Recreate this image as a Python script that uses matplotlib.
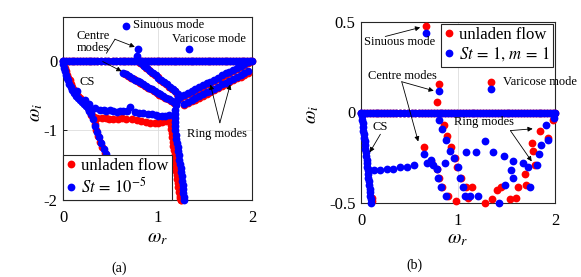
import matplotlib
matplotlib.use("Agg")
import matplotlib.pyplot as plt
import numpy as np

plt.rcParams["font.family"] = ["Liberation Serif", "DejaVu Serif"]
plt.rcParams["mathtext.fontset"] = "stix"
plt.rcParams["axes.unicode_minus"] = False

RED, BLUE = "#ff0000", "#0000ff"
MS = 5.6

# ---------------- panel (a): unladen flow vs St = 1e-5 ----------------
# neutral continuous line (omega_i = 0)
a_zero_wr = [0.00, 0.03, 0.06, 0.09, 0.12, 0.15, 0.18, 0.21, 0.24, 0.27, 0.30, 0.33, 0.36,
             0.40, 0.44, 0.48, 0.53, 0.56, 0.60, 0.63, 0.66, 0.69, 0.72, 0.75, 0.78, 0.81,
             0.84, 0.87, 0.90, 0.93, 0.96, 0.99, 1.02, 1.05, 1.08, 1.11, 1.14, 1.17, 1.20,
             1.23, 1.26, 1.29, 1.32, 1.35, 1.38, 1.41, 1.44, 1.47, 1.50, 1.53, 1.56, 1.59,
             1.62, 1.65, 1.68, 1.71, 1.74, 1.77, 1.80, 1.83, 1.86, 1.89, 1.92, 1.95, 1.98, 2.00]

# CS branch
a_cs_wr = [0.00, 0.005, 0.01, 0.02, 0.03, 0.04, 0.05, 0.065, 0.08, 0.10, 0.12, 0.14, 0.16,
           0.18, 0.20, 0.22, 0.24, 0.26, 0.28, 0.30, 0.32, 0.34, 0.36, 0.38, 0.40, 0.43,
           0.45, 0.47]
a_cs_wi = [0.00, -0.05, -0.10, -0.15, -0.20, -0.24, -0.28, -0.33, -0.38, -0.42, -0.46, -0.50,
           -0.53, -0.56, -0.59, -0.62, -0.65, -0.68, -0.72, -0.77, -0.83, -0.93, -1.02, -1.10,
           -1.18, -1.26, -1.34, -1.42]
a_cs_red_wr = [0.01, 0.02, 0.03, 0.045, 0.055, 0.07, 0.085, 0.10, 0.12, 0.14, 0.16, 0.18, 0.20,
               0.22, 0.24, 0.26, 0.28, 0.30, 0.32, 0.335, 0.35, 0.37, 0.39, 0.41, 0.44, 0.46]
a_cs_red_wi = [-0.05, -0.10, -0.15, -0.20, -0.24, -0.28, -0.33, -0.38, -0.42, -0.46, -0.50,
               -0.54, -0.57, -0.60, -0.63, -0.66, -0.70, -0.75, -0.81, -0.91, -1.00, -1.08,
               -1.16, -1.24, -1.32, -1.40]
a_cs_extra_wr = [0.145, 0.23, 0.27]
a_cs_extra_wi = [-0.44, -0.56, -0.62]

# branch near omega_i ~ -0.8
a_low_blue_wr = [0.30, 0.34, 0.39, 0.43, 0.46, 0.50, 0.53, 0.57, 0.60, 0.64, 0.68, 0.71, 0.76,
                 0.80, 0.85, 0.90, 0.94, 0.98, 1.01, 1.05, 1.08, 1.12]
a_low_blue_wi = [-0.70, -0.68, -0.70, -0.71, -0.72, -0.71, -0.72, -0.73, -0.72, -0.72, -0.72,
                 -0.66, -0.74, -0.75, -0.75, -0.76, -0.77, -0.78, -0.79, -0.79, -0.79, -0.78]
a_low_red_wr = [0.30, 0.33, 0.36, 0.41, 0.45, 0.49, 0.53, 0.58, 0.62, 0.67, 0.73, 0.78, 0.83,
                0.88, 0.92, 0.97, 1.01, 1.05, 1.09, 1.12]
a_low_red_wi = [-0.78, -0.80, -0.82, -0.82, -0.82, -0.83, -0.84, -0.83, -0.82, -0.83, -0.84,
                -0.85, -0.87, -0.88, -0.89, -0.89, -0.89, -0.88, -0.87, -0.86]

# centre-mode diagonals
a_cen1_wr = [0.64, 0.67, 0.70, 0.73, 0.76, 0.79, 0.82, 0.85, 0.88, 0.91, 0.94, 0.97, 1.00,
             1.03, 1.06, 1.09, 1.12, 1.15, 1.18]
a_cen1_wi = [-0.17, -0.19, -0.22, -0.24, -0.27, -0.29, -0.31, -0.34, -0.36, -0.39, -0.41,
             -0.43, -0.46, -0.48, -0.51, -0.53, -0.55, -0.58, -0.60]
a_cen1_red_wr = [0.66, 0.69, 0.72, 0.75, 0.78, 0.81, 0.84, 0.87, 0.90, 0.93, 0.96, 0.99, 1.02,
                 1.05, 1.08, 1.11, 1.14, 1.17]
a_cen1_red_wi = [-0.195, -0.215, -0.24, -0.265, -0.29, -0.315, -0.34, -0.365, -0.39, -0.41,
                 -0.435, -0.46, -0.485, -0.51, -0.53, -0.555, -0.58, -0.605]
a_cen2_wr = [0.80, 0.83, 0.86, 0.89, 0.92, 0.95, 0.98, 1.01, 1.04, 1.07, 1.10, 1.13, 1.16,
             1.19, 1.22]
a_cen2_wi = [0.00, -0.03, -0.07, -0.10, -0.14, -0.17, -0.21, -0.24, -0.27, -0.31, -0.34,
             -0.38, -0.41, -0.44, -0.48]
a_cen2_red_wr = [0.82, 0.85, 0.88, 0.91, 0.94, 0.97, 1.00, 1.03, 1.06, 1.09, 1.12, 1.15, 1.18,
                 1.21]
a_cen2_red_wi = [-0.03, -0.065, -0.10, -0.13, -0.17, -0.20, -0.235, -0.27, -0.30, -0.34,
                 -0.37, -0.41, -0.44, -0.475]

# vertical branch from the junction
a_vert_wr = [1.22, 1.21, 1.20, 1.19, 1.18, 1.18, 1.18, 1.185, 1.19, 1.195, 1.20, 1.21, 1.215,
             1.22, 1.225, 1.23, 1.24, 1.245, 1.25, 1.255, 1.26, 1.265, 1.27, 1.275, 1.28, 1.285]
a_vert_wi = [-0.52, -0.58, -0.64, -0.70, -0.76, -0.82, -0.88, -0.94, -1.00, -1.06, -1.12, -1.18,
             -1.24, -1.30, -1.36, -1.42, -1.48, -1.54, -1.60, -1.66, -1.72, -1.78, -1.84, -1.90,
             -1.96, -2.00]
a_vert_red_wr = [1.14, 1.14, 1.145, 1.15, 1.155, 1.16, 1.165, 1.17, 1.18, 1.185, 1.19, 1.195,
                 1.20, 1.205, 1.21, 1.215, 1.22, 1.23, 1.235, 1.24, 1.245, 1.25]
a_vert_red_wi = [-0.86, -0.92, -0.98, -1.04, -1.10, -1.16, -1.22, -1.28, -1.34, -1.40, -1.46,
                 -1.52, -1.58, -1.64, -1.70, -1.76, -1.82, -1.88, -1.94, -1.97, -2.00, -2.00]

# ring-mode branches
a_ring1_wr = [1.24, 1.28, 1.32, 1.36, 1.40, 1.44, 1.48, 1.52, 1.56, 1.60, 1.64, 1.68, 1.72,
              1.76, 1.80, 1.84, 1.88, 1.92, 1.96]
a_ring1_wi = [-0.52, -0.49, -0.46, -0.44, -0.41, -0.38, -0.35, -0.32, -0.30, -0.27, -0.24,
              -0.21, -0.18, -0.16, -0.13, -0.10, -0.07, -0.04, -0.01]
a_ring1_red_wi = [-0.54, -0.51, -0.48, -0.46, -0.43, -0.40, -0.37, -0.34, -0.32, -0.29, -0.26,
                  -0.23, -0.20, -0.18, -0.15, -0.12, -0.09, -0.06, -0.03]
a_ring2_wr = [1.28, 1.32, 1.36, 1.40, 1.44, 1.48, 1.52, 1.56, 1.60, 1.64, 1.68, 1.72, 1.76,
              1.80, 1.84, 1.88, 1.92, 1.96]
a_ring2_wi = [-0.62, -0.59, -0.56, -0.54, -0.51, -0.48, -0.45, -0.43, -0.40, -0.37, -0.34,
              -0.32, -0.29, -0.26, -0.23, -0.21, -0.18, -0.15]
a_ring2_red_wi = [-0.64, -0.61, -0.58, -0.56, -0.53, -0.50, -0.47, -0.45, -0.42, -0.39, -0.36,
                  -0.34, -0.31, -0.28, -0.25, -0.23, -0.20, -0.17]

# discrete modes
a_disc_wr = [0.67, 1.33, 0.79, 0.785]
a_disc_wi = [0.50, 0.17, 0.17, 0.07]

# ---------------- panel (b): unladen flow vs St = 1, m = 1 ----------------
b_zero_wr = a_zero_wr

b_cs_wi = [0.00, -0.02, -0.04, -0.06, -0.08, -0.10, -0.12, -0.14, -0.16, -0.18, -0.20, -0.22,
           -0.24, -0.26, -0.28, -0.30, -0.32, -0.34, -0.36, -0.38, -0.40, -0.42, -0.44, -0.46,
           -0.48, -0.50]
b_cs_wr = [0.005, 0.009, 0.013, 0.017, 0.021, 0.025, 0.029, 0.033, 0.037, 0.041, 0.045, 0.049,
           0.053, 0.057, 0.061, 0.065, 0.069, 0.073, 0.077, 0.081, 0.085, 0.089, 0.093, 0.097,
           0.101, 0.105]
b_cs_red_wr = [0.110, 0.115]
b_cs_red_wi = [-0.47, -0.49]

b_hor_wr = [0.08, 0.13, 0.20, 0.27, 0.33, 0.40, 0.47, 0.55]
b_hor_wi = [-0.32, -0.32, -0.32, -0.31, -0.31, -0.30, -0.30, -0.29]

b_red_wr = [0.67, 0.80, 0.78, 1.34,
            0.86, 0.89, 0.93, 0.97, 0.99, 1.03, 1.08, 1.10,
            0.65, 0.72, 0.78, 0.80, 0.84, 0.90, 0.98,
            1.14, 1.28, 1.35, 1.40, 1.44, 1.54, 1.60, 1.62, 1.69, 1.70,
            1.76, 1.77, 1.79, 1.85, 1.93, 1.98]
b_red_wi = [0.48, 0.16, 0.06, 0.17,
            -0.07, -0.13, -0.19, -0.25, -0.30, -0.36, -0.41, -0.47,
            -0.19, -0.27, -0.31, -0.36, -0.41, -0.46, -0.49,
            -0.41, -0.50, -0.48, -0.43, -0.41, -0.48, -0.47, -0.41, -0.34, -0.40,
            -0.17, -0.21, -0.29, -0.10, -0.14, -0.04]
b_blue_wr = [0.67, 0.80, 1.34,
             0.80, 0.84, 0.88, 0.92, 0.96, 1.00, 1.02, 1.05, 1.07,
             0.65, 0.68, 0.72, 0.74, 0.78, 0.79, 0.82, 0.88,
             0.87, 1.08, 1.19, 1.28, 1.36, 1.47, 1.57, 1.67,
             1.12, 1.21, 1.42, 1.48, 1.55, 1.57, 1.72, 1.74, 1.81, 1.83, 1.86, 1.91, 1.93, 1.99]
b_blue_wi = [0.44, 0.12, 0.13,
             -0.04, -0.09, -0.15, -0.21, -0.25, -0.30, -0.36, -0.41, -0.46,
             -0.23, -0.28, -0.26, -0.29, -0.31, -0.36, -0.41, -0.46,
             -0.28, -0.22, -0.22, -0.16, -0.22, -0.24, -0.27, -0.28,
             -0.46, -0.46, -0.50, -0.40, -0.32, -0.36, -0.30, -0.41, -0.29, -0.23, -0.18, -0.07,
             -0.15, -0.03]


def dots(ax, x, y, c):
    ax.plot(x, y, "o", color=c, ms=MS, mew=0, clip_on=False, zorder=3)


def arrow(ax, xy, xytext):
    ax.annotate("", xy=xy, xytext=xytext,
                arrowprops=dict(arrowstyle="-|>", color="k", lw=0.6, mutation_scale=7,
                                shrinkA=0, shrinkB=0))


def style(ax):
    ax.set_xlim(0, 2)
    ax.set_xticks([0, 1, 2])
    ax.tick_params(direction="in", length=3, labelsize=12, width=0.6)
    ax.tick_params(axis="x", pad=7)
    ax.tick_params(axis="y", pad=4)
    ax.grid(color="#dddddd", lw=0.6)
    ax.set_axisbelow(True)
    for s in ax.spines.values():
        s.set_color("#262626"); s.set_linewidth(0.8)


fig = plt.figure(figsize=(5.81, 2.77), dpi=100)
ax1 = fig.add_axes([63 / 581, 1 - 200 / 277, 189 / 581, 183 / 277])
ax2 = fig.add_axes([361 / 581, 1 - 203 / 277, 194 / 581, 181 / 277])

# ---- (a)
zeros_a = [0.0] * len(a_zero_wr)
for x, y in [(a_zero_wr, zeros_a), (a_cs_red_wr, a_cs_red_wi), (a_low_red_wr, a_low_red_wi),
             (a_cen1_red_wr, a_cen1_red_wi), (a_cen2_red_wr, a_cen2_red_wi),
             (a_vert_red_wr, a_vert_red_wi), (a_ring1_wr, a_ring1_red_wi),
             (a_ring2_wr, a_ring2_red_wi)]:
    dots(ax1, x, y, RED)
for x, y in [(a_zero_wr, zeros_a), (a_cs_wr, a_cs_wi), (a_cs_extra_wr, a_cs_extra_wi),
             (a_low_blue_wr, a_low_blue_wi), (a_cen1_wr, a_cen1_wi), (a_cen2_wr, a_cen2_wi),
             (a_vert_wr, a_vert_wi), (a_ring1_wr, a_ring1_wi), (a_ring2_wr, a_ring2_wi),
             (a_disc_wr, a_disc_wi)]:
    dots(ax1, x, y, BLUE)
h1 = ax1.plot([], [], "o", color=RED, ms=MS, mew=0, label="unladen flow")[0]
h2 = ax1.plot([], [], "o", color=BLUE, ms=MS, mew=0, label=r"$St\,=\,10^{-5}$")[0]

style(ax1)
ax1.set_ylim(-2, 0.63)
ax1.set_yticks([-2, -1, 0])
ax1.set_yticklabels(["-2", "-1", "0"])
ax1.set_xlabel(r"$\omega_r$", fontsize=14, va="center")
ax1.xaxis.set_label_coords(0.50, -0.21)
ax1.set_ylabel(r"$\omega_i$", fontsize=14, va="center", ha="center")
ax1.yaxis.set_label_coords(-0.14, 0.48)

tkw = dict(fontsize=9)
ax1.text(0.74, 0.51, "Sinuous mode", va="center", ha="left", **tkw)
ax1.text(1.94, 0.31, "Varicose mode", va="center", ha="right", **tkw)
ax1.text(0.14, 0.27, "Centre\nmodes", va="center", ha="left", linespacing=1.0, **tkw)
ax1.text(0.26, -0.30, "CS", va="center", ha="center", **tkw)
ax1.text(1.63, -1.05, "Ring modes", va="center", ha="center", **tkw)
ax1.plot([0.46, 0.55], [0.11, 0.31], color="k", lw=0.6)
arrow(ax1, (0.76, 0.20), (0.55, 0.31))
arrow(ax1, (0.62, -0.15), (0.42, -0.01))
arrow(ax1, (1.56, -0.34), (1.66, -0.89))
arrow(ax1, (1.77, -0.34), (1.66, -0.89))

leg = ax1.legend(handles=[h1, h2], loc="lower left", borderaxespad=0, fontsize=12,
                 handlelength=0.6, handletextpad=0.3, borderpad=0.2, labelspacing=0.15,
                 fancybox=False, edgecolor="#262626", framealpha=1)
leg.get_frame().set_linewidth(0.8)

# ---- (b)
zeros_b = [0.0] * len(b_zero_wr)
dots(ax2, b_zero_wr, zeros_b, RED)
dots(ax2, b_cs_red_wr, b_cs_red_wi, RED)
dots(ax2, b_red_wr, b_red_wi, RED)
dots(ax2, b_zero_wr, zeros_b, BLUE)
dots(ax2, b_cs_wr, b_cs_wi, BLUE)
dots(ax2, b_hor_wr, b_hor_wi, BLUE)
dots(ax2, b_blue_wr, b_blue_wi, BLUE)
g1 = ax2.plot([], [], "o", color=RED, ms=MS, mew=0, label="unladen flow")[0]
g2 = ax2.plot([], [], "o", color=BLUE, ms=MS, mew=0, label=r"$St\,=\,1,\,m\,=\,1$")[0]

style(ax2)
ax2.set_ylim(-0.5, 0.5)
ax2.set_yticks([-0.5, 0, 0.5])
ax2.set_yticklabels(["-0.5", "0", "0.5"])
ax2.set_xlabel(r"$\omega_r$", fontsize=14, va="center")
ax2.xaxis.set_label_coords(0.495, -0.20)
ax2.set_ylabel(r"$\omega_i$", fontsize=14, va="center", ha="center")
ax2.yaxis.set_label_coords(-0.25, 0.49)

ax2.text(0.40, 0.39, "Sinuous mode", va="center", ha="center", **tkw)
ax2.text(0.43, 0.20, "Centre modes", va="center", ha="center", **tkw)
ax2.text(1.46, 0.17, "Varicose mode", va="center", ha="left", clip_on=False, **tkw)
ax2.text(0.20, -0.08, "CS", va="center", ha="center", **tkw)
ax2.text(1.27, -0.05, "Ring modes", va="center", ha="center", **tkw)
arrow(ax2, (0.61, 0.47), (0.25, 0.42))
arrow(ax2, (0.75, 0.12), (0.42, 0.17))
arrow(ax2, (0.59, -0.16), (0.42, 0.17))
arrow(ax2, (0.09, -0.22), (0.20, -0.12))
arrow(ax2, (1.77, -0.09), (1.54, -0.10))
arrow(ax2, (1.76, -0.27), (1.54, -0.10))

leg2 = ax2.legend(handles=[g1, g2], loc="upper right", borderaxespad=0.1, fontsize=12,
                  handlelength=0.6, handletextpad=0.3, borderpad=0.2, labelspacing=0.15,
                  fancybox=False, edgecolor="#262626", framealpha=1)
leg2.get_frame().set_linewidth(0.8)

fig.text(119 / 581, 1 - 268 / 277, "(a)", ha="center", va="center", fontsize=10)
fig.text(414 / 581, 1 - 265 / 277, "(b)", ha="center", va="center", fontsize=10)

fig.savefig("out.png", dpi=100)
